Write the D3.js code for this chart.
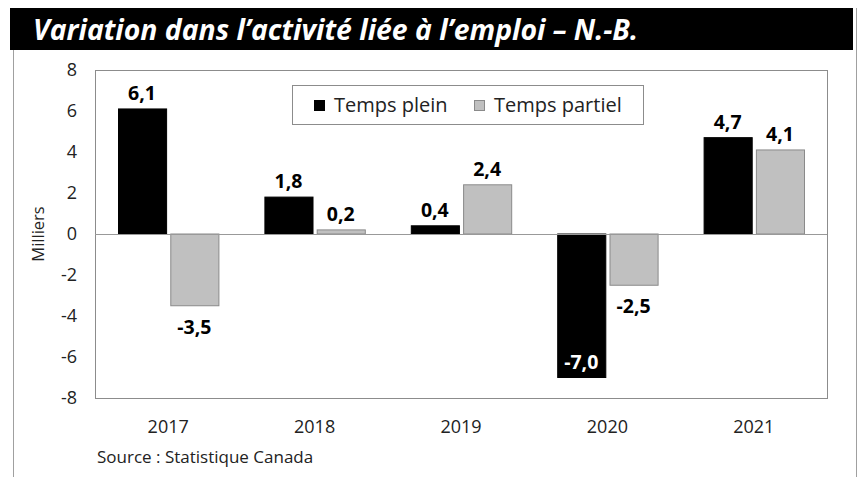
<!DOCTYPE html>
<html>
<head>
<meta charset="utf-8">
<script src="https://cdn.jsdelivr.net/npm/d3@7"></script>
<style>
  body { margin: 0; background: #fff; }
  text { font-family: "Open Sans", "Noto Sans", sans-serif; }
</style>
</head>
<body>
<div id="chart"></div>
<script>
// data
var years = ["2017", "2018", "2019", "2020", "2021"];
var series = ["Temps plein", "Temps partiel"];
var tempsPlein = [6.1, 1.8, 0.4, -7.0, 4.7];
var tempsPartiel = [-3.5, 0.2, 2.4, -2.5, 4.1];
var yTicks = [-8, -6, -4, -2, 0, 2, 4, 6, 8];

var svgWidth = 858;
var svgHeight = 477;

var margin = { top: 70, right: 31, bottom: 79, left: 95 };
var width = svgWidth - margin.left - margin.right;
var height = svgHeight - margin.top - margin.bottom;

var fills = ["#000000", "#c0c0c0"];
var strokes = ["#000000", "#8a8a8a"];

var svg = d3.select("#chart")
  .append("svg")
  .attr("width", svgWidth)
  .attr("height", svgHeight);

// outer frame
svg.append("line").attr("x1", 13.5).attr("x2", 13.5).attr("y1", 50).attr("y2", svgHeight)
  .attr("stroke", "#a0a0a0");
svg.append("line").attr("x1", 856.5).attr("x2", 856.5).attr("y1", 8).attr("y2", svgHeight)
  .attr("stroke", "#a0a0a0");

// title bar
svg.append("rect")
  .attr("x", 10).attr("y", 8)
  .attr("width", 843).attr("height", 42)
  .attr("fill", "#000");

svg.append("text")
  .attr("x", 33).attr("y", 40)
  .attr("fill", "#fff")
  .style("font-size", "28px")
  .style("font-weight", "bold")
  .style("font-style", "italic")
  .attr("textLength", 605)
  .attr("lengthAdjust", "spacingAndGlyphs")
  .text("Variation dans l\u2019activité liée à l\u2019emploi \u2013 N.-B.");

var chartGroup = svg.append("g")
  .attr("transform", `translate(${margin.left}, ${margin.top})`);

var x0 = d3.scaleBand()
  .domain(years)
  .range([0, width])
  .paddingInner(0)
  .paddingOuter(0);

var x1 = d3.scaleBand()
  .domain(series)
  .range([23, x0.bandwidth() - 23])
  .paddingInner(0.08);

var y = d3.scaleLinear()
  .domain([-8, 8])
  .range([height, 0]);

// plot frame
chartGroup.append("rect")
  .attr("x", 0.5).attr("y", 0.5)
  .attr("width", width).attr("height", height)
  .attr("fill", "none")
  .attr("stroke", "#8c8c8c");

// y axis labels (plain hyphen for negatives)
var leftAxis = d3.axisLeft(y).tickValues(yTicks).tickSize(0).tickPadding(18)
  .tickFormat(d => String(d));
var gy = chartGroup.append("g").call(leftAxis);
gy.select(".domain").remove();
gy.selectAll("text")
  .style("font-size", "18px")
  .attr("fill", "#222");

// x axis labels
var bottomAxis = d3.axisBottom(x0).tickSize(0).tickPadding(22);
var gx = chartGroup.append("g")
  .attr("transform", `translate(0, ${height})`)
  .call(bottomAxis);
gx.select(".domain").remove();
gx.selectAll("text")
  .style("font-size", "18px")
  .attr("fill", "#222");

var rows = years.map(function(yr, i) {
  return { year: yr, values: [tempsPlein[i], tempsPartiel[i]] };
});

var groups = chartGroup.selectAll(".yr")
  .data(rows)
  .enter()
  .append("g")
  .attr("transform", d => `translate(${x0(d.year)}, 0)`);

groups.selectAll("rect")
  .data(d => d.values.map((v, k) => ({ v: v, k: k })))
  .enter()
  .append("rect")
  .attr("x", d => x1(series[d.k]) + 0.5)
  .attr("y", d => y(Math.max(0, d.v)))
  .attr("width", x1.bandwidth())
  .attr("height", d => Math.abs(y(d.v) - y(0)))
  .attr("fill", d => fills[d.k])
  .attr("stroke", d => strokes[d.k]);

// zero line
chartGroup.append("line")
  .attr("x1", 0).attr("x2", width)
  .attr("y1", y(0) + 0.5).attr("y2", y(0) + 0.5)
  .attr("stroke", "#999");

// value labels
var fmt = v => v.toFixed(1).replace(".", ",");
var inside = d => d.v < 0 && y(d.v) + 30 > height;
groups.selectAll(".val")
  .data(d => d.values.map((v, k) => ({ v: v, k: k })))
  .enter()
  .append("text")
  .attr("class", "val")
  .attr("x", d => x1(series[d.k]) + x1.bandwidth() / 2)
  .attr("y", function(d) {
    if (d.v >= 0) return y(d.v) - 9;
    if (inside(d)) return y(d.v) - 9;
    return y(d.v) + 28;
  })
  .attr("text-anchor", "middle")
  .attr("fill", d => inside(d) ? "#fff" : "#000")
  .style("font-size", "19.5px")
  .style("font-weight", "bold")
  .text(d => fmt(d.v));

// axis title
chartGroup.append("text")
  .attr("transform", "rotate(-90)")
  .attr("x", -y(0))
  .attr("y", -51)
  .attr("text-anchor", "middle")
  .style("font-size", "16.5px")
  .attr("fill", "#222")
  .text("Milliers");

// legend
var legend = svg.append("g").attr("transform", "translate(292, 85)");
legend.append("rect")
  .attr("x", 0.5).attr("y", 0.5)
  .attr("width", 351).attr("height", 39)
  .attr("fill", "#fff")
  .attr("stroke", "#8c8c8c");

var legendX = [22, 182];
series.forEach(function(s, k) {
  legend.append("rect")
    .attr("x", legendX[k] + 0.5).attr("y", 15.5)
    .attr("width", 10).attr("height", 10)
    .attr("fill", fills[k])
    .attr("stroke", strokes[k]);
  legend.append("text")
    .attr("x", legendX[k] + 20)
    .attr("y", 27)
    .style("font-size", "20px")
    .attr("fill", "#222")
    .text(s);
});

// source
svg.append("text")
  .attr("x", 97).attr("y", 463)
  .style("font-size", "17px")
  .attr("fill", "#222")
  .text("Source : Statistique Canada");
</script>
</body>
</html>
